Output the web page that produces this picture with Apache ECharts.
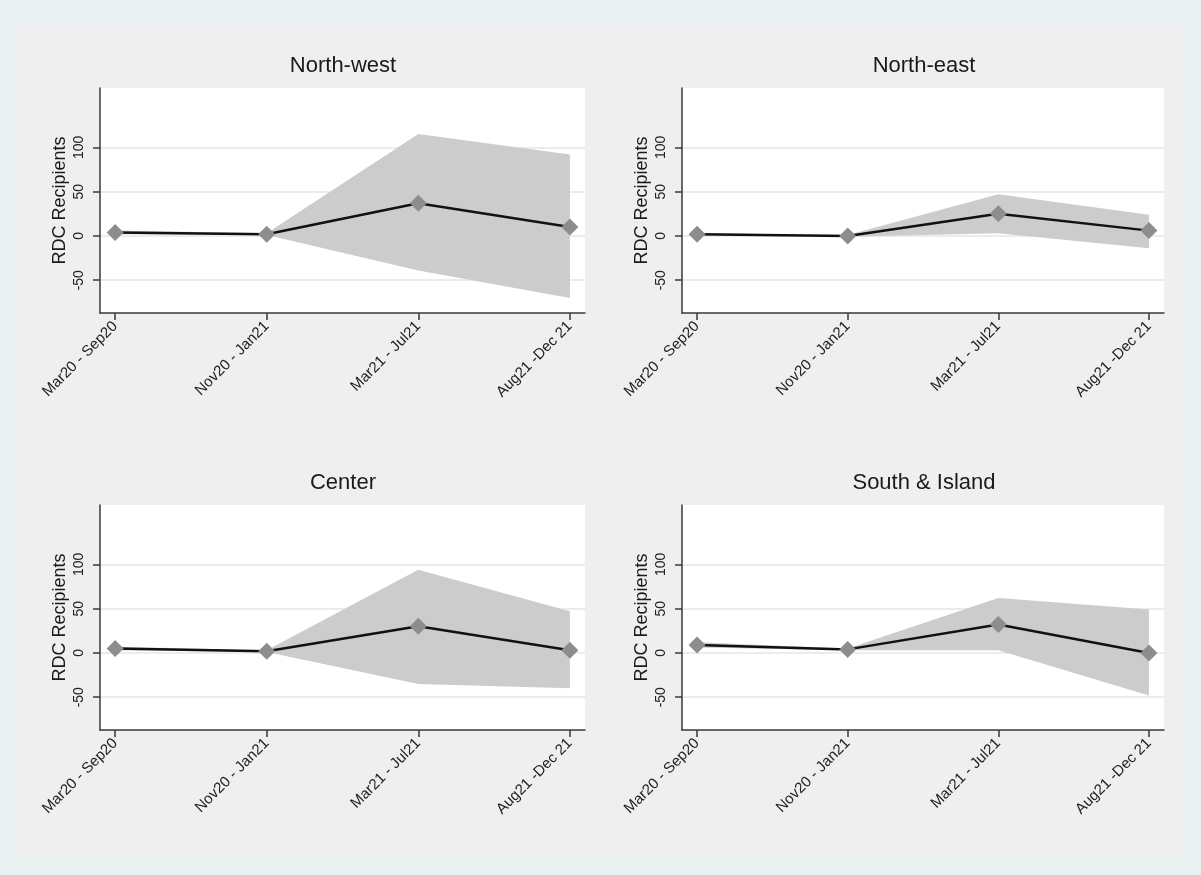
<!DOCTYPE html>
<html>
<head>
    <meta charset="UTF-8">
    <title>RDC Recipients by area</title>
    <style>
        html, body { margin: 0; padding: 0; background: #e8f0f2; }
        #main { width: 1201px; height: 875px; }
    </style>
    <script src="https://cdn.jsdelivr.net/npm/echarts@6/dist/echarts.min.js"></script>
</head>
<body>
    <div id="main"></div>
    <script type="text/javascript">
        // periods on the x axis
        var periods = ['Mar20 - Sep20', 'Nov20 - Jan21', 'Mar21 - Jul21', 'Aug21 -Dec 21'];
        var periodPos = [0, 1, 2, 3];
        var yTicks = [-50, 0, 50, 100];
        var regions = ['North-west', 'North-east', 'Center', 'South & Island'];

        // point estimate and confidence band per area
        var nwMean = [4, 2, 37, 10];
        var nwLow = [2, 1, -39, -70];
        var nwHigh = [6, 3, 115, 92];

        var neMean = [2, 0, 25, 6];
        var neLow = [1, -1, 3, -14];
        var neHigh = [3, 1, 47, 24];

        var ceMean = [5, 2, 30, 3];
        var ceLow = [3, 1, -35, -40];
        var ceHigh = [7, 3, 94, 47];

        var siMean = [9, 4, 32, 0];
        var siLow = [6, 3, 3, -48];
        var siHigh = [12, 5, 62, 49];

        var means = [nwMean, neMean, ceMean, siMean];
        var lows = [nwLow, neLow, ceLow, siLow];
        var highs = [nwHigh, neHigh, ceHigh, siHigh];

        var font = 'Liberation Sans, Arial, Helvetica, sans-serif';

        // panel layout of each plot region
        var panels = [
            { left: 100, top: 88, width: 485, titleX: 338, titleY: 50 },
            { left: 682, top: 88, width: 482, titleX: 919, titleY: 50 },
            { left: 100, top: 505, width: 485, titleX: 338, titleY: 467 },
            { left: 682, top: 505, width: 482, titleX: 919, titleY: 467 }
        ];

        // draws the whole band as one polygon (low edge, then high edge back)
        function bandRenderer(low, high) {
            return function (params, api) {
                if (params.dataIndex !== 0) return;
                var pts = [];
                for (var k = 0; k < low.length; k++) pts.push(api.coord([periodPos[k], low[k]]));
                for (var k = high.length - 1; k >= 0; k--) pts.push(api.coord([periodPos[k], high[k]]));
                return {
                    type: 'polygon',
                    shape: { points: pts },
                    style: { fill: '#cccccc', stroke: null }
                };
            };
        }

        var titles = [], grids = [], xAxes = [], yAxes = [], series = [];

        for (var i = 0; i < 4; i++) {
            var p = panels[i];
            titles.push({
                text: regions[i],
                left: p.titleX,
                top: p.titleY,
                textAlign: 'center',
                textStyle: { fontFamily: font, fontSize: 22, fontWeight: 'normal', color: '#1a1a1a' }
            });
            grids.push({
                left: p.left, top: p.top, width: p.width, height: 225,
                show: true, backgroundColor: '#ffffff', borderWidth: 0
            });
            xAxes.push({
                type: 'value', gridIndex: i, min: -0.1, max: 3.1,
                axisLine: { show: true, onZero: false, lineStyle: { color: '#3a3a3a', width: 1.5 } },
                axisTick: { show: true, length: 7, customValues: periodPos, lineStyle: { color: '#3a3a3a', width: 1.5 } },
                axisLabel: {
                    customValues: periodPos, rotate: 45, margin: 11,
                    fontFamily: font, fontSize: 15, color: '#222',
                    formatter: function (v) { return periods[Math.round(v)]; }
                },
                splitLine: { show: false }
            });
            yAxes.push({
                type: 'value', gridIndex: i, min: -87, max: 167,
                name: 'RDC Recipients', nameLocation: 'middle', nameGap: 31,
                nameTextStyle: { fontFamily: font, fontSize: 18, color: '#1a1a1a' },
                axisLine: { show: true, onZero: false, lineStyle: { color: '#3a3a3a', width: 1.5 } },
                axisTick: { show: true, length: 7, customValues: yTicks, lineStyle: { color: '#3a3a3a', width: 1.5 } },
                axisLabel: { customValues: yTicks, rotate: 90, margin: 14, fontFamily: font, fontSize: 14, color: '#222' },
                splitLine: { show: true, lineStyle: { color: '#e6e6e6', width: 1.5 } }
            });

            var bandData = [], meanData = [];
            for (var k = 0; k < periods.length; k++) {
                bandData.push([periodPos[k], lows[i][k], highs[i][k]]);
                meanData.push([periodPos[k], means[i][k]]);
            }
            // confidence band
            series.push({
                type: 'custom', xAxisIndex: i, yAxisIndex: i, data: bandData,
                renderItem: bandRenderer(lows[i], highs[i]),
                encode: { x: 0, y: [1, 2] },
                silent: true, z: 1
            });
            // point estimates
            series.push({
                type: 'line', xAxisIndex: i, yAxisIndex: i, data: meanData,
                symbol: 'diamond', symbolSize: 17,
                itemStyle: { color: '#8d8d8d' },
                lineStyle: { color: '#111111', width: 2.5 },
                z: 3
            });
        }

        var myChart = echarts.init(document.getElementById('main'));
        var option = {
            animation: false,
            backgroundColor: '#e8f0f2',
            graphic: [{
                type: 'rect', silent: true, z: -10,
                shape: { x: 16, y: 25, width: 1168, height: 833 },
                style: { fill: '#efefef' }
            }],
            title: titles,
            grid: grids,
            xAxis: xAxes,
            yAxis: yAxes,
            series: series
        };
        myChart.setOption(option);
    </script>
</body>
</html>
